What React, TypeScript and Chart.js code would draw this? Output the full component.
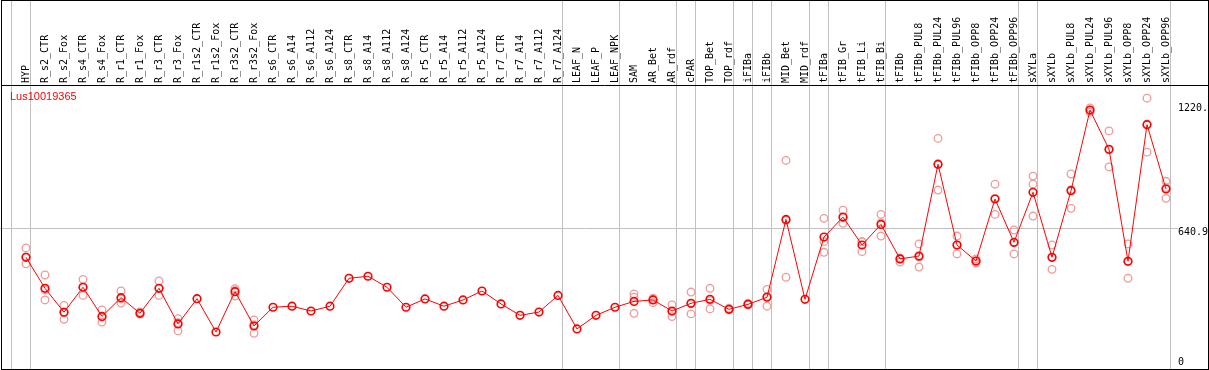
import React, { useEffect, useRef } from 'react';
import { Chart, registerables } from 'chart.js';

Chart.register(...registerables);

const seriesName = 'Lus10019365';

const categories = [
  'HYP', 'R_s2_CTR', 'R_s2_Fox', 'R_s4_CTR', 'R_s4_Fox', 'R_r1_CTR', 'R_r1_Fox', 'R_r3_CTR', 'R_r3_Fox',
  'R_r1s2_CTR', 'R_r1s2_Fox', 'R_r3s2_CTR', 'R_r3s2_Fox', 'R_s6_CTR', 'R_s6_A14', 'R_s6_A112', 'R_s6_A124',
  'R_s8_CTR', 'R_s8_A14', 'R_s8_A112', 'R_s8_A124', 'R_r5_CTR', 'R_r5_A14', 'R_r5_A112', 'R_r5_A124',
  'R_r7_CTR', 'R_r7_A14', 'R_r7_A112', 'R_r7_A124', 'LEAF_N', 'LEAF_P', 'LEAF_NPK', 'SAM', 'AR_Bet', 'AR_rdf',
  'cPAR', 'TOP_Bet', 'TOP_rdf', 'iFIBa', 'iFIBb', 'MID_Bet', 'MID_rdf', 'tFIBa', 'tFIB_Gr', 'tFIB_Li', 'tFIB_Bi',
  'tFIBb', 'tFIBb_PUL8', 'tFIBb_PUL24', 'tFIBb_PUL96', 'tFIBb_OPP8', 'tFIBb_OPP24', 'tFIBb_OPP96',
  'sXYLa', 'sXYLb', 'sXYLb_PUL8', 'sXYLb_PUL24', 'sXYLb_PUL96', 'sXYLb_OPP8', 'sXYLb_OPP24', 'sXYLb_OPP96',
];

const meanValues = [
  503, 354, 239, 359, 219, 309, 234, 354, 183, 304, 144, 338, 173, 263, 268, 245, 268,
  402, 412, 359, 263, 303, 268, 298, 341, 279, 224, 240, 320, 159, 224, 263, 291, 298, 245,
  282, 301, 253, 277, 311, 685, 301, 600, 696, 562, 661,
  495, 509, 950, 562, 485, 783, 575,
  815, 503, 823, 1210, 1022, 484, 1140, 831,
];

const N = null;
const rep1 = [
  548, 418, 272, 397, 250, 341, 240, 389, 208, N, N, 352, 202, N, N, N, N,
  N, N, N, N, N, N, N, N, N, N, N, N, N, N, N, 327, 307, 274,
  336, 354, 258, 282, 349, 968, N, 690, 729, 578, 709,
  500, 567, 1074, 605, 495, 854, 634,
  893, 562, 903, 1220, 1110, 567, 1267, 868,
];
const rep2 = [
  505, 346, 240, 359, 216, 303, 232, 353, 189, N, N, 344, 179, N, N, N, N,
  N, N, N, N, N, N, N, N, N, N, N, N, N, N, N, 311, 300, 243,
  280, 295, 252, 275, 315, 680, N, 578, 694, 578, 669,
  495, 504, 948, 562, 485, 786, 572,
  854, 502, 828, 1210, 1019, 482, 1143, 838,
];
const rep3 = [
  472, 298, 205, 320, 192, 283, 230, 320, 150, N, N, 317, 138, N, N, N, N,
  N, N, N, N, N, N, N, N, N, N, N, N, N, N, N, 234, 285, 218,
  231, 255, 250, 274, 268, 407, N, 527, 666, 530, 605,
  480, 456, 826, 519, 475, 709, 519,
  701, 445, 738, 1200, 937, 402, 1008, 786,
];

// index of the last category of each group (separator drawn after it)
const groupEnds = [-1, 0, 28, 31, 34, 35, 37, 38, 39, 41, 42, 45, 52, 53, 60];

const yTickValues = [0, 640.9, 1220];
const yTickLabels = ['0', '640.9', '1220.'];

const MONO = '"DejaVu Sans Mono", monospace';

const framePlugin = {
  id: 'frame',
  afterDraw(chart: any) {
    const ctx = chart.ctx;
    ctx.save();
    ctx.strokeStyle = '#000';
    ctx.lineWidth = 1;
    ctx.strokeRect(1.5, 0.5, 1207, 369);
    ctx.beginPath();
    ctx.moveTo(1, chart.chartArea.top + 0.5);
    ctx.lineTo(1208, chart.chartArea.top + 0.5);
    ctx.stroke();
    ctx.fillStyle = '#ff0000';
    ctx.font = '11px "Liberation Sans", Arial, sans-serif';
    ctx.textBaseline = 'middle';
    ctx.textAlign = 'left';
    ctx.fillText(seriesName, 10, 97);
    ctx.restore();
  },
};

export default function App() {
  const ref = useRef<HTMLCanvasElement | null>(null);

  useEffect(() => {
    if (!ref.current) return;

    const meanData = meanValues.map((v, i) => ({ x: i, y: v }));
    const repData: { x: number; y: number }[] = [];
    [rep1, rep2, rep3].forEach((arr) => {
      arr.forEach((v, i) => {
        if (v !== null) repData.push({ x: i, y: v as number });
      });
    });

    const chartRight = 1171;
    const xMin = -26 / 19;
    const xMax = (chartRight - 26) / 19;

    const chart = new Chart(ref.current, {
      type: 'line',
      data: {
        datasets: [
          {
            label: seriesName,
            data: meanData,
            borderColor: '#ff0000',
            backgroundColor: 'rgba(0,0,0,0)',
            borderWidth: 1,
            tension: 0,
            pointStyle: 'circle',
            pointRadius: 3.8,
            pointBorderWidth: 1.6,
            pointBorderColor: '#ff0000',
            pointBackgroundColor: 'rgba(0,0,0,0)',
          },
          {
            type: 'scatter' as any,
            label: 'replicates',
            data: repData,
            showLine: false,
            borderColor: '#f09a9a',
            backgroundColor: 'rgba(0,0,0,0)',
            pointStyle: 'circle',
            pointRadius: 3.8,
            pointBorderWidth: 1.3,
            pointBorderColor: '#f09a9a',
            pointBackgroundColor: 'rgba(0,0,0,0)',
          },
        ],
      },
      options: {
        responsive: false,
        animation: false,
        events: [],
        layout: { padding: 0, autoPadding: false },
        plugins: {
          legend: { display: false },
          title: { display: false },
          tooltip: { enabled: false },
        },
        scales: {
          x: {
            type: 'linear',
            position: 'top',
            min: xMin,
            max: xMax,
            afterBuildTicks: (s: any) => {
              const vals = [
                ...categories.map((_, i) => i),
                ...groupEnds.map((g) => g + 0.25),
              ].sort((a, b) => a - b);
              s.ticks = vals.map((v) => ({ value: v }));
            },
            afterFit: (s: any) => {
              s.height = 85;
              s.paddingLeft = 0;
              s.paddingRight = 0;
            },
            ticks: {
              autoSkip: false,
              minRotation: 90,
              maxRotation: 90,
              padding: -83,
              labelOffset: 12,
              color: '#000',
              font: { family: MONO, size: 10 },
              callback: (v: any) => (Number.isInteger(v) && categories[v] !== undefined ? categories[v] : ''),
            },
            grid: {
              drawOnChartArea: true,
              drawTicks: true,
              tickLength: 85,
              color: '#c0c0c0',
              lineWidth: (c: any) => (c.tick && !Number.isInteger(c.tick.value) ? 1 : 0),
            },
            border: { display: false },
          },
          y: {
            type: 'linear',
            position: 'right',
            min: -38.4,
            max: 1330.5,
            afterBuildTicks: (s: any) => {
              s.ticks = yTickValues.map((v) => ({ value: v }));
            },
            afterFit: (s: any) => {
              s.width = 1209 - chartRight;
              s.paddingTop = 0;
              s.paddingBottom = 0;
            },
            ticks: {
              padding: 0,
              color: '#000',
              font: { family: MONO, size: 10, lineHeight: '7px' },
              callback: (v: any) => {
                const i = yTickValues.indexOf(v);
                if (i < 0) return '';
                return v === 640.9 ? ['', yTickLabels[i]] : yTickLabels[i];
              },
            },
            grid: {
              drawOnChartArea: true,
              drawTicks: true,
              tickLength: 7,
              color: (c: any) => (c.tick && c.tick.value === 640.9 ? '#c0c0c0' : 'rgba(0,0,0,0)'),
              lineWidth: 1,
            },
            border: { display: false },
          },
        },
      },
      plugins: [framePlugin],
    } as any);

    return () => chart.destroy();
  }, []);

  return (
    <div style={{ position: 'absolute', left: 0, top: 0, width: 1209, height: 370, background: '#fff' }}>
      <canvas ref={ref} width={1209} height={370} style={{ display: 'block' }} />
    </div>
  );
}
